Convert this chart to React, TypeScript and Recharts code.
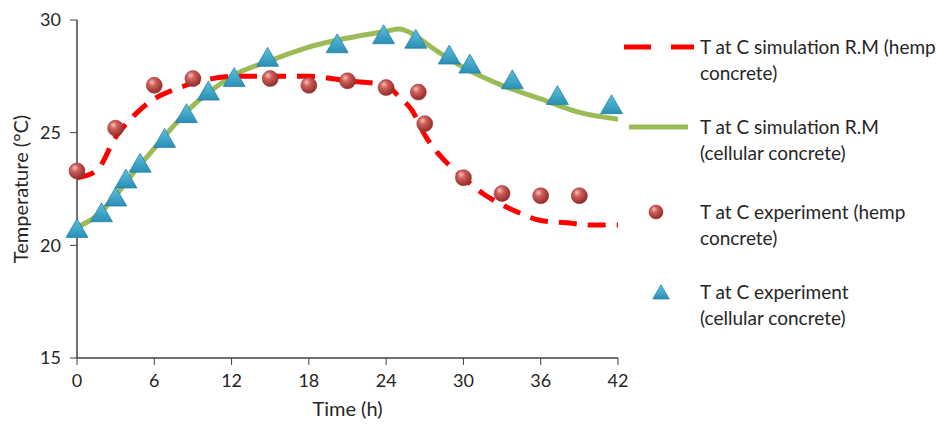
import React from "react"
import { ComposedChart, Line, Scatter, XAxis, YAxis, Label } from "recharts"

// simulation curves (time in h, temperature in °C)
const hempSimTime = [0, 1.5, 3, 4.5, 6, 7.5, 9, 10.5, 12, 15, 18, 21, 24, 25, 26, 27, 28, 29, 30, 31.5, 33, 34.5, 36, 38, 40, 42]
const hempSimTemp = [23.0, 23.3, 24.8, 25.8, 26.5, 26.9, 27.2, 27.4, 27.5, 27.5, 27.5, 27.3, 27.1, 26.6, 26.0, 24.9, 24.1, 23.5, 23.0, 22.3, 21.8, 21.4, 21.1, 21.0, 20.9, 20.9]

const cellSimTime = [0, 1.5, 3, 4.5, 6, 7.5, 9, 10.5, 12, 15, 18, 21, 24, 25, 26, 27, 28, 30, 33, 36, 39, 42]
const cellSimTemp = [20.8, 21.3, 22.2, 23.3, 24.3, 25.3, 26.2, 26.9, 27.5, 28.2, 28.8, 29.2, 29.5, 29.6, 29.4, 29.0, 28.6, 27.9, 27.1, 26.5, 25.9, 25.6]

// measured points
const hempExpTime = [0, 3, 6, 9, 15, 18, 21, 24, 26.5, 27, 30, 33, 36, 39]
const hempExpTemp = [23.3, 25.2, 27.1, 27.4, 27.4, 27.1, 27.3, 27.0, 26.8, 25.4, 23.0, 22.3, 22.2, 22.2]

const cellExpTime = [0, 1.9, 3, 3.8, 4.9, 6.8, 8.5, 10.2, 12.2, 14.8, 20.2, 23.8, 26.3, 28.9, 30.5, 33.8, 37.3, 41.5]
const cellExpTemp = [20.7, 21.4, 22.1, 22.9, 23.6, 24.7, 25.8, 26.8, 27.4, 28.3, 28.9, 29.3, 29.1, 28.4, 28.0, 27.3, 26.6, 26.2]

const xTicks = [0, 6, 12, 18, 24, 30, 36, 42]
const yTicks = [15, 20, 25, 30]

const legendLabels = [
  ["T at C simulation R.M (hemp", "concrete)"],
  ["T at C simulation R.M", "(cellular concrete)"],
  ["T at C experiment (hemp", "concrete)"],
  ["T at C experiment", "(cellular concrete)"],
]

const zip = (ts: number[], vs: number[]) => ts.map((t, i) => ({ t, T: vs[i] }))

const FONT = "Lato, 'Liberation Sans', sans-serif"
const TEXT = "#262626"
const AXIS = "#404040"
const RED = "#ff0000"
const GREEN = "#9bbb59"

const Ball = ({ cx, cy, r = 8 }: any) => (
  <circle cx={cx} cy={cy} r={r} fill="url(#ballGrad)" stroke="#9a3533" strokeWidth={0.6} />
)

const Tri = ({ cx, cy, s = 1 }: any) => (
  <polygon
    points={`${cx},${cy - 11 * s} ${cx + 11 * s},${cy + 8 * s} ${cx - 11 * s},${cy + 8 * s}`}
    fill="url(#triGrad)"
    stroke="#1e7a9c"
    strokeWidth={0.7}
  />
)

const Defs = () => (
  <defs>
    <radialGradient id="ballGrad" cx="0.4" cy="0.35" r="0.65" fx="0.35" fy="0.3">
      <stop offset="0%" stopColor="#f6c1bf" />
      <stop offset="35%" stopColor="#d2605c" />
      <stop offset="100%" stopColor="#8e2d2a" />
    </radialGradient>
    <linearGradient id="triGrad" x1="0" y1="0" x2="0" y2="1">
      <stop offset="0%" stopColor="#5cc0de" />
      <stop offset="100%" stopColor="#2a8fb5" />
    </linearGradient>
  </defs>
)

const icons = [
  <svg width={84} height={14}>
    <line x1={8} y1={7} x2={78} y2={7} stroke={RED} strokeWidth={5} strokeDasharray="27 20" />
  </svg>,
  <svg width={84} height={14}>
    <line x1={13} y1={7} x2={72} y2={7} stroke={GREEN} strokeWidth={5} />
  </svg>,
  <svg width={84} height={20}>
    <Defs />
    <Ball cx={40} cy={10} r={7} />
  </svg>,
  <svg width={84} height={20}>
    <Defs />
    <Tri cx={45} cy={11} s={0.75} />
  </svg>,
]

const legendTops = [26, 106, 191, 271]

const ChartLegend = () => (
  <div style={{ position: "absolute", left: 0, top: 0 }}>
    {legendLabels.map((lines, i) => (
      <div
        key={i}
        style={{
          position: "absolute",
          left: 608,
          top: legendTops[i],
          display: "flex",
          alignItems: "flex-start",
          fontFamily: FONT,
          fontSize: 19,
          lineHeight: "26px",
          color: TEXT,
          whiteSpace: "nowrap",
        }}
      >
        <div style={{ width: 84, height: 26, display: "flex", alignItems: "center" }}>{icons[i]}</div>
        <div>
          {lines.map((l, j) => (
            <div key={j}>{l}</div>
          ))}
        </div>
      </div>
    ))}
  </div>
)

export default function App() {
  const tick = { fill: TEXT, fontSize: 18, fontFamily: FONT }
  const labelStyle = { fill: TEXT, fontSize: 20, fontFamily: FONT }
  return (
    <div style={{ position: "relative", width: 941, height: 420 }}>
      <ComposedChart width={941} height={420} margin={{ top: 12, right: 331, left: 9, bottom: 10 }}>
        <Defs />
        <XAxis
          type="number"
          dataKey="t"
          domain={[0, 42]}
          ticks={xTicks}
          tick={tick}
          tickSize={7}
          tickMargin={9}
          axisLine={{ stroke: AXIS, strokeWidth: 1.5 }}
          tickLine={{ stroke: AXIS }}
          height={60}
        >
          <Label value="Time (h)" position="insideBottom" offset={2} style={labelStyle} />
        </XAxis>
        <YAxis
          type="number"
          domain={[15, 30]}
          ticks={yTicks}
          tick={tick}
          tickSize={7}
          tickMargin={9}
          axisLine={{ stroke: AXIS, strokeWidth: 1.5 }}
          tickLine={{ stroke: AXIS }}
          width={60}
        >
          <Label
            value="Temperature (°C)"
            angle={-90}
            position="insideLeft"
            offset={4}
            style={{ ...labelStyle, textAnchor: "middle" }}
          />
        </YAxis>
        <Line
          data={zip(cellSimTime, cellSimTemp)}
          dataKey="T"
          type="monotone"
          stroke={GREEN}
          strokeWidth={5}
          dot={false}
          activeDot={false}
          isAnimationActive={false}
        />
        <Line
          data={zip(hempSimTime, hempSimTemp)}
          dataKey="T"
          type="monotone"
          stroke={RED}
          strokeWidth={5}
          strokeDasharray="18 11"
          dot={false}
          activeDot={false}
          isAnimationActive={false}
        />
        <Scatter data={zip(hempExpTime, hempExpTemp)} dataKey="T" shape={(p: any) => <Ball {...p} />} isAnimationActive={false} />
        <Scatter data={zip(cellExpTime, cellExpTemp)} dataKey="T" shape={(p: any) => <Tri {...p} />} isAnimationActive={false} />
      </ComposedChart>
      <ChartLegend />
    </div>
  )
}
